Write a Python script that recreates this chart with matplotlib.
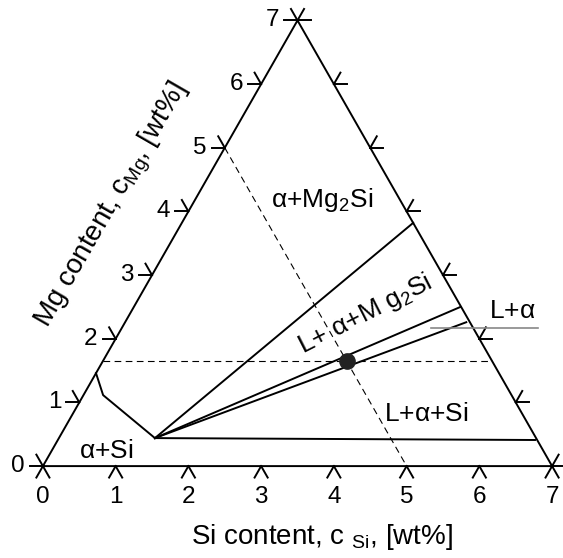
import numpy as np
import matplotlib
matplotlib.use("Agg")
import matplotlib.pyplot as plt

plt.rcParams['font.family'] = ['Liberation Sans', 'DejaVu Sans']
plt.rcParams['mathtext.fontset'] = 'custom'
plt.rcParams['mathtext.rm'] = 'Liberation Sans'
plt.rcParams['mathtext.it'] = 'Liberation Sans'

# data in (Si, Mg) wt%
ticks = [0, 1, 2, 3, 4, 5, 6, 7]
liq_si = [0.0, 0.27, 1.32]
liq_mg = [1.46, 1.115, 0.44]
tie_end_si = [3.18, 4.49, 4.69, 6.56]
tie_end_mg = [3.82, 2.50, 2.26, 0.41]
alloy_si = 3.36
alloy_mg = 1.65
iso_sum = 5.0

SQ = np.sqrt(3) / 2


def tern(s, m):
    s = np.asarray(s, float)
    m = np.asarray(m, float)
    return s + m / 2, m * SQ


fig = plt.figure(figsize=(5.63, 5.58), dpi=100)
ax = fig.add_axes([0, 0, 1, 1])
ax.set_xlim(-0.59, 7.15)
ax.set_ylim(-1.25, 6.34)
ax.axis('off')

lw = 1.4
# triangle
x, y = tern([0, 7, 0, 0], [0, 0, 7, 0])
ax.plot(x, y, 'k', lw=lw, solid_joinstyle='miter')

# tick marks
L = 0.18
for t in ticks:
    for (ps, pm), angs in [((t, 0), (240, 300)), ((0, t), (120, 180)), ((7 - t, t), (0, 60))]:
        px, py = tern(ps, pm)
        for a in angs:
            r = np.radians(a)
            ax.plot([px, px + L * np.cos(r)], [py, py + L * np.sin(r)], 'k', lw=lw)

# tick labels
tfs = 17.5
for t in ticks:
    px, py = tern(t, 0)
    ax.text(px, py - 0.42, str(t), ha='center', va='center', fontsize=tfs)
    px, py = tern(0, t)
    ax.text(px - 0.34, py, str(t), ha='center', va='center', fontsize=tfs)

# dashed guide lines
x, y = tern([0, iso_sum], [iso_sum, 0])
ax.plot(x, y, 'k', lw=0.8, dashes=(6, 4))
x, y = tern([0, 7 - alloy_mg], [alloy_mg, alloy_mg])
ax.plot(x, y, 'k', lw=0.8, dashes=(6, 4))

# liquidus valley and tie lines
x, y = tern(liq_si, liq_mg)
ax.plot(x, y, 'k', lw=lw)
for es, em in zip(tie_end_si, tie_end_mg):
    x, y = tern([liq_si[-1], es], [liq_mg[-1], em])
    ax.plot(x, y, 'k', lw=lw)

# alloy point
x, y = tern(alloy_si, alloy_mg)
ax.plot(x, y, 'o', color='#222222', ms=11)

# L+alpha leader
ax.plot([5.34, 6.81], [1.88, 1.88], color='#888888', lw=1.2)

fs = 19
ax.text(3.84, 3.62, r'$\alpha$+Mg$_2$Si', ha='center', va='center', fontsize=fs)
ax.text(4.43, 2.07, r'L+ $\alpha$+M g$_2$Si', ha='center', va='center', fontsize=fs,
        rotation=27, rotation_mode='anchor')
ax.text(5.27, 0.71, r'L+$\alpha$+Si', ha='center', va='center', fontsize=fs)
ax.text(0.87, 0.20, r'$\alpha$+Si', ha='center', va='center', fontsize=fs)
ax.text(6.45, 2.11, r'L+$\alpha$', ha='center', va='center', fontsize=fs)

ax.text(3.84, -0.97, r'Si content, c $_{\rm Si}$, [wt%]', ha='center', va='center', fontsize=20)
ax.text(0.96, 3.54, r'Mg content, c$_{\rm Mg}$, [wt%]', ha='center', va='center', fontsize=20,
        rotation=60, rotation_mode='anchor')

fig.savefig('out.png', dpi=100)
